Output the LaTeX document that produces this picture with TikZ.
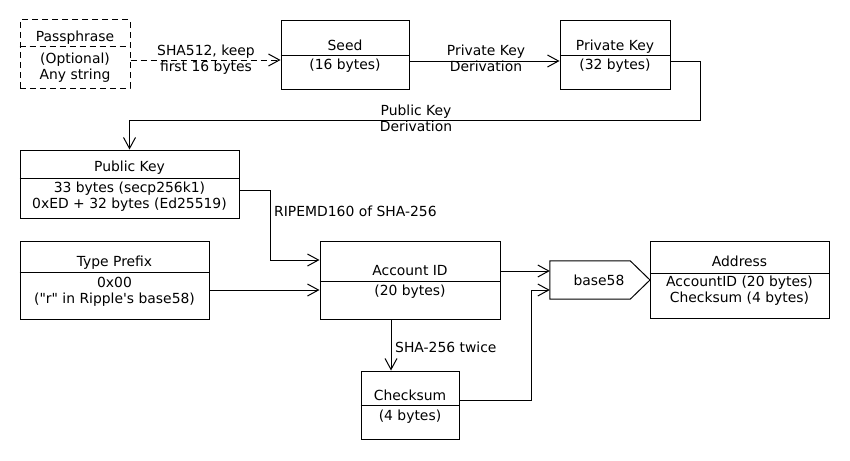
\documentclass[tikz,border=0pt]{standalone}
\usepackage{fontspec}
\setmainfont{DejaVu Sans}
\usetikzlibrary{arrows.meta}
\begin{document}
\begin{tikzpicture}[x=1pt,y=-1pt,
  every node/.style={font=\fontsize{13.9}{16.3}\selectfont, inner sep=0pt},
  box/.style={draw, line width=1pt, rectangle},
  txt/.style={align=center, anchor=base},
  wire/.style={line width=1pt},
  arr/.style={line width=1pt, -{Straight Barb[length=11pt,width=12pt,line width=1pt]}},
  dsh/.style={dash pattern=on 6pt off 4pt}]
\useasboundingbox (0,0) rectangle (850,460);

% boxes
\node[box, dsh, minimum width=110, minimum height=68] (pass) at (75,54) {};
\node[box, minimum width=128, minimum height=68] (seed) at (345,55) {};
\node[box, minimum width=110, minimum height=68] (priv) at (615,55) {};
\node[box, minimum width=219, minimum height=68] (pub) at (129.5,184) {};
\node[box, minimum width=189, minimum height=78] (type) at (114.5,280) {};
\node[box, minimum width=180, minimum height=78] (acct) at (410,280) {};
\node[box, minimum width=98, minimum height=68] (chk) at (410,405) {};
\node[box, minimum width=179, minimum height=77] (addr) at (739.5,279.5) {};
\node[minimum width=80, minimum height=38] (b58) at (590,280) {};
\draw[wire] (b58.north west) -- (b58.north east) -- (650,280) -- (b58.south east) -- (b58.south west) -- cycle;

% dividers
\draw[wire, dsh] (pass.west |- 0,47) -- (pass.east |- 0,47);
\draw[wire] (seed.west |- 0,55.5) -- (seed.east |- 0,55.5);
\draw[wire] (priv.west |- 0,55.5) -- (priv.east |- 0,55.5);
\draw[wire] (pub.west |- 0,178) -- (pub.east |- 0,178);
\draw[wire] (type.west |- 0,272) -- (type.east |- 0,272);
\draw[wire] (acct.west |- 0,281) -- (acct.east |- 0,281);
\draw[wire] (chk.west |- 0,405) -- (chk.east |- 0,405);
\draw[wire] (addr.west |- 0,273) -- (addr.east |- 0,273);

% texts (multi-line nodes: base = baseline of last line)
\node[txt] (passT) at (75,41.5) {Passphrase};
\node[txt] (passB) at (75,79.3) {(Optional)\\Any string};
\node[txt] (seedT) at (345,50) {Seed};
\node[txt] (seedB) at (345,70) {(16 bytes)};
\node[txt] (privT) at (615,50) {Private Key};
\node[txt] (privB) at (615,70) {(32 bytes)};
\node[txt] (pubT) at (129.5,171.7) {Public Key};
\node[txt] (pubB) at (129.5,208.3) {33 bytes (secp256k1)\\0xED + 32 bytes (Ed25519)};
\node[txt] (typeT) at (114.5,266.7) {Type Prefix};
\node[txt] (typeB) at (114.5,303.3) {0x00\\(\textquotedbl r\textquotedbl{} in Ripple\textquotesingle s base58)};
\node[txt] (acctT) at (410,275.7) {Account ID};
\node[txt] (acctB) at (410,295.7) {(20 bytes)};
\node[txt] (chkT) at (410,400) {Checksum};
\node[txt] (chkB) at (410,420) {(4 bytes)};
\node[txt] (addrT) at (739.5,266) {Address};
\node[txt] (addrB) at (739.5,302.7) {AccountID (20 bytes)\\Checksum (4 bytes)};
\node[txt] (b58T) at (599,285) {base58};

% connector labels
\node[txt] (l1) at (206,71.7) {SHA512, keep\\first 16 bytes};
\node[txt] (l2) at (486,71.7) {Private Key\\Derivation};
\node[txt] (l3) at (416,131.7) {Public Key\\Derivation};
\node[anchor=base west] (l4) at (274,216.7) {RIPEMD160 of SHA-256};
\node[anchor=base west] (l5) at (395,352.7) {SHA-256 twice};

% connectors
\draw[arr, dsh] (pass.east |- 0,60) -- (seed.west |- 0,60);
\draw[arr] (seed.east |- 0,61) -- (priv.west |- 0,61);
\draw[arr] (priv.east |- 0,61) -| (700,120) -| (pub.north);
\draw[arr] (pub.east |- 0,190) -| (270,260) -- (acct.west |- 0,260);
\draw[arr] (type.east |- 0,290) -- (acct.west |- 0,290);
\draw[arr] (acct.east |- 0,271) -- (b58.west |- 0,271);
\draw[arr] (chk.east |- 0,400) -| (531,290) -- (b58.west |- 0,290);
\draw[arr] (acct.south -| 391,0) -- (chk.north -| 391,0);
\end{tikzpicture}
\end{document}
